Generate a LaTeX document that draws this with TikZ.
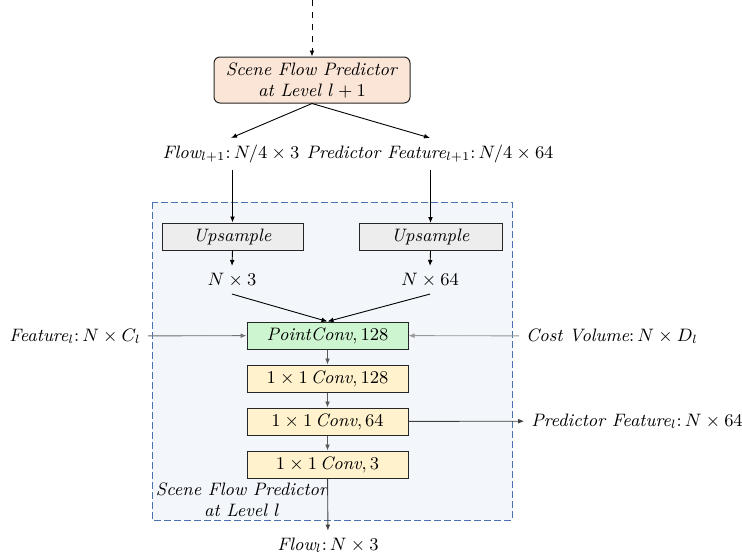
\documentclass[tikz,border=0pt]{standalone}
\usepackage{amsmath}
\usetikzlibrary{arrows.meta,positioning}
\definecolor{peach}{HTML}{FBE5D6}
\definecolor{upgray}{HTML}{EDEDED}
\definecolor{pcgreen}{HTML}{CCF5D0}
\definecolor{convyellow}{HTML}{FFF2CC}
\definecolor{regionblue}{HTML}{4A72B0}
\definecolor{regionfill}{HTML}{F3F6FB}
\begin{document}
\begin{tikzpicture}[x=0.5pt,y=-0.5pt,>={Latex[length=3pt,width=2.4pt]},
  font=\fontsize{9}{10.5}\selectfont,
  box/.style={draw=black!85,line width=0.5pt,inner sep=0pt,minimum height=13.5pt},
  convbox/.style={box,minimum width=80.5pt},
  arr/.style={->,line width=0.45pt},
  grayarr/.style={->,line width=0.45pt,draw=black!55,fill=black!55}]
\useasboundingbox (0,0) rectangle (742,558);
% level l region
\draw[draw=regionblue,fill=regionfill,line width=0.5pt,dash pattern=on 3.5pt off 1.5pt] (152,202) rectangle (512,520);
\node[align=center] (title) at (242,500) {\textit{Scene Flow Predictor}\\\textit{at Level} $l$};
% level l+1
\coordinate (prev) at (312,0);
\node[box,fill=peach,rounded corners=3pt,minimum width=98pt,minimum height=23pt,align=center] (sfp) at (312,80)
  {\textit{Scene Flow Predictor}\\\textit{at Level} $l+1$};
\node (flowup) at (231,154) {$\textit{Flow}_{l+1}{:}\,N/4\times 3$};
\node (featup) at (430,154) {$\textit{Predictor Feature}_{l+1}{:}\,N/4\times 64$};
\draw[->,dashed,line width=0.45pt] (prev) -- (sfp.north);
\draw[arr] (sfp.south) -- (flowup.north);
\draw[arr] (sfp.south) -- (featup.north);
% upsampling
\node[box,fill=upgray,minimum width=70.5pt] (upL) at (232.5,236.5) {\textit{Upsample}};
\node[box,fill=upgray,minimum width=71.5pt] (upR) at (430.5,237) {\textit{Upsample}};
\node (nthree) at (232,280) {$N\times 3$};
\node (nsixtyfour) at (430,280) {$N\times 64$};
\draw[arr] (flowup.south -| upL.north) -- (upL.north);
\draw[arr] (featup.south -| upR.north) -- (upR.north);
\draw[arr] (upL.south) -- (nthree.north);
\draw[arr] (upR.south) -- (nsixtyfour.north);
% predictor layers
\node[convbox,fill=pcgreen] (pc) at (327.5,335.5) {$\textit{PointConv},128$};
\node[convbox,fill=convyellow,below=7.5pt of pc] (cA) {$1\times 1\,\textit{Conv},128$};
\node[convbox,fill=convyellow,below=7.5pt of cA] (cB) {$1\times 1\,\textit{Conv},64$};
\node[convbox,fill=convyellow,below=7.5pt of cB] (cC) {$1\times 1\,\textit{Conv},3$};
\draw[arr] (nthree.south) -- (pc.north);
\draw[arr] (nsixtyfour.south) -- (pc.north);
\foreach \a/\b in {pc/cA,cA/cB,cB/cC}
  \draw[grayarr,draw=black!65,fill=black!65] (\a) -- (\b);
% inputs and outputs
\node (featl) at (75,336) {$\textit{Feature}_l{:}\,N\times C_l$};
\node (cost) at (612,336) {$\textit{Cost Volume}{:}\,N\times D_l$};
\node (featout) at (637,421) {$\textit{Predictor Feature}_l{:}\,N\times 64$};
\node (flowl) at (328,545) {$\textit{Flow}_l{:}\,N\times 3$};
\draw[grayarr] (featl) -- (pc);
\draw[grayarr,draw=black!40,fill=black!40] (cost) -- (pc);
\draw[arr,draw=black!75] (cB) -- (featout);
\draw[arr,draw=black!75] (cC) -- (flowl);
\end{tikzpicture}
\end{document}
